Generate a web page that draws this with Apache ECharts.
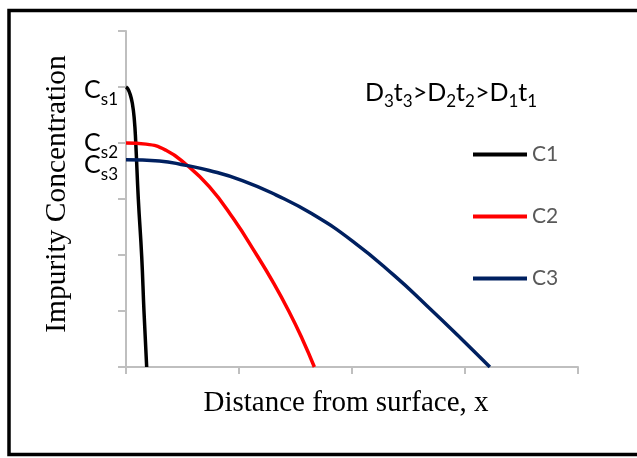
<!DOCTYPE html>
<html>
<head>
<meta charset="utf-8">
<script src="https://cdn.jsdelivr.net/npm/echarts@6/dist/echarts.min.js"></script>
<style>
  html, body { margin: 0; padding: 0; background: #fff; }
  #chart { width: 637px; height: 458px; }
</style>
</head>
<body>
<div id="chart"></div>
<script>
// values (x in axis units 0..4, y in units 0..6)
const seriesNames = ['C1', 'C2', 'C3'];
const seriesColors = ['#000000', '#FF0000', '#002060'];
const c1X = [0, 0.015, 0.035, 0.056, 0.074, 0.086, 0.109, 0.139, 0.159, 0.183];
const c1Y = [5.0, 4.97, 4.88, 4.71, 4.41, 4.02, 3.0, 1.97, 1.0, 0];
const c2X = [0, 0.177, 0.354, 0.53, 0.737, 0.95, 1.157, 1.3, 1.44, 1.56, 1.667];
const c2Y = [4.0, 3.98, 3.87, 3.62, 3.22, 2.65, 2.0, 1.52, 1.0, 0.5, 0];
const c3X = [0, 0.295, 0.53, 0.737, 1.03, 1.33, 1.65, 2.01, 2.37, 2.66, 2.96, 3.22];
const c3Y = [3.7, 3.68, 3.6, 3.51, 3.33, 3.07, 2.73, 2.24, 1.64, 1.1, 0.52, 0];
const surfaceLabels = ['s1', 's2', 's3'];
const labelOffsets = [[0, 3], [0, 0], [0, 5]];

const xs = [c1X, c2X, c3X];
const ys = [c1Y, c2Y, c3Y];
const sans = 'Lato, "Open Sans", sans-serif';
const serif = '"Liberation Serif", "Times New Roman", serif';

const subRich = {
    c: { fontSize: 25, fontFamily: sans, color: '#000', lineHeight: 36, verticalAlign: 'middle' },
    s: { fontSize: 17, fontFamily: sans, color: '#000', lineHeight: 20, verticalAlign: 'bottom' }
};

const series = seriesNames.map((name, i) => ({
    name: name,
    type: 'line',
    data: xs[i].map((x, j) => [x, ys[i][j]]),
    smooth: 0.5,
    symbol: 'none',
    lineStyle: { color: seriesColors[i], width: 3.5 },
    itemStyle: { color: seriesColors[i] },
    markPoint: {
        symbol: 'circle',
        symbolSize: 0,
        silent: true,
        data: [{ coord: [0, ys[i][0]] }],
        label: {
            show: true,
            position: 'left',
            distance: 8,
            offset: labelOffsets[i],
            formatter: '{c|C}{s|' + surfaceLabels[i] + '}',
            rich: subRich
        }
    }
}));

const chart = echarts.init(document.getElementById('chart'));
chart.setOption({
    backgroundColor: '#fff',
    animation: false,
    grid: { left: 126, top: 31, width: 452, height: 336 },
    xAxis: {
        type: 'value', min: 0, max: 4, interval: 1,
        name: 'Distance from surface, x',
        nameLocation: 'middle', nameGap: 22,
        nameTextStyle: { fontFamily: serif, fontSize: 29, color: '#000', padding: [0, 12, 0, 0] },
        axisLine: { lineStyle: { color: '#BFBFBF', width: 2 } },
        axisTick: { show: true, length: 7, lineStyle: { color: '#BFBFBF', width: 2 } },
        axisLabel: { show: false },
        splitLine: { show: false }
    },
    yAxis: {
        type: 'value', min: 0, max: 6, interval: 1,
        name: 'Impurity Concentration',
        nameLocation: 'middle', nameGap: 54,
        nameTextStyle: { fontFamily: serif, fontSize: 29.5, color: '#000', padding: [0, 0, 0, 10] },
        axisLine: { show: true, lineStyle: { color: '#BFBFBF', width: 2 } },
        axisTick: { show: true, length: 8, lineStyle: { color: '#BFBFBF', width: 2 } },
        axisLabel: { show: false },
        splitLine: { show: false }
    },
    legend: {
        orient: 'vertical',
        left: 473, top: 144,
        padding: 0,
        itemWidth: 54, itemHeight: 20, itemGap: 41,
        data: seriesNames.map(n => ({ name: n, icon: 'path://M0,0L54,0L54,4L0,4Z' })),
        textStyle: { fontFamily: sans, fontSize: 21, color: '#595959' }
    },
    graphic: [
        {
            type: 'rect', silent: true,
            shape: { x: 9, y: 10.5, width: 700, height: 444 },
            style: { fill: 'none', stroke: '#000', lineWidth: 3.5 }
        },
        {
            type: 'text', left: 365, top: 80, silent: true,
            style: {
                text: '{m|D}{b|3}{m|t}{b|3}{m|>D}{b|2}{m|t}{b|2}{m|>D}{b|1}{m|t}{b|1}',
                rich: {
                    m: { fontSize: 25, fontFamily: sans, fill: '#000', lineHeight: 36, verticalAlign: 'middle' },
                    b: { fontSize: 17, fontFamily: sans, fill: '#000', lineHeight: 20, verticalAlign: 'bottom' }
                }
            }
        }
    ],
    series: series
});
</script>
</body>
</html>
